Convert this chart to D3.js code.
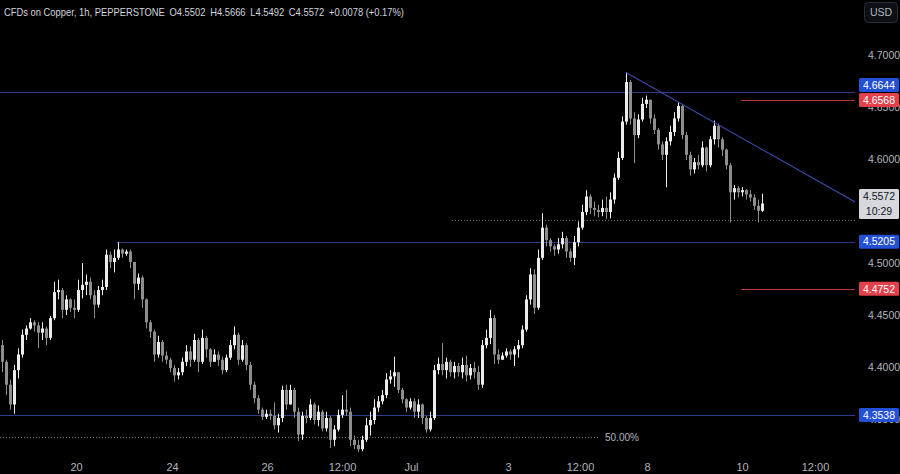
<!DOCTYPE html>
<html><head><meta charset="utf-8">
<script src="https://cdn.jsdelivr.net/npm/d3@7/dist/d3.min.js"></script>
<style>html,body{margin:0;padding:0;background:#000;overflow:hidden}</style>
</head><body><svg id="c" width="900" height="474"></svg>
<script>
// ---------- DATA ----------
const firstOpen = 4.421;
const closes = [4.405,4.383,4.364,4.397,4.412,4.431,4.437,4.443,4.440,4.433,4.437,4.428,4.447,4.472,4.474,4.455,4.465,4.457,4.455,4.474,
4.479,4.482,4.469,4.460,4.474,4.477,4.508,4.501,4.505,4.513,4.509,4.511,4.501,4.480,4.486,4.465,4.443,4.434,4.412,4.424,
4.411,4.407,4.399,4.392,4.395,4.405,4.415,4.407,4.426,4.405,4.428,4.417,4.405,4.412,4.407,4.397,4.409,4.421,4.431,4.407,
4.421,4.402,4.383,4.370,4.359,4.352,4.355,4.353,4.344,4.351,4.378,4.364,4.378,4.357,4.335,4.353,4.351,4.364,4.349,4.357,
4.341,4.351,4.330,4.340,4.354,4.359,4.357,4.330,4.325,4.321,4.330,4.344,4.349,4.361,4.367,4.373,4.388,4.391,4.395,4.378,
4.369,4.361,4.367,4.357,4.364,4.351,4.340,4.351,4.397,4.403,4.397,4.405,4.395,4.401,4.395,4.402,4.392,4.399,4.395,4.383,
4.421,4.428,4.447,4.412,4.407,4.411,4.415,4.412,4.417,4.421,4.436,4.465,4.489,4.457,4.505,4.534,4.522,4.516,4.513,4.518,
4.524,4.511,4.505,4.520,4.534,4.549,4.564,4.553,4.551,4.549,4.553,4.549,4.561,4.582,4.601,4.636,4.674,4.639,4.623,4.638,
4.653,4.657,4.639,4.628,4.614,4.604,4.617,4.626,4.639,4.651,4.623,4.604,4.590,4.597,4.594,4.611,4.594,4.619,4.632,4.619,
4.609,4.594,4.568,4.572,4.568,4.570,4.566,4.563,4.555,4.5502,4.5572];
const highs = [4.426,4.407,4.388,4.402,4.418,4.436,4.440,4.447,4.445,4.443,4.443,4.439,4.449,4.482,4.484,4.476,4.469,4.466,4.465,4.484,
4.500,4.489,4.486,4.474,4.478,4.484,4.513,4.511,4.513,4.520,4.514,4.513,4.513,4.501,4.490,4.488,4.466,4.445,4.436,4.430,
4.426,4.415,4.409,4.402,4.399,4.409,4.421,4.420,4.432,4.428,4.436,4.430,4.418,4.417,4.415,4.410,4.412,4.426,4.439,4.433,
4.426,4.423,4.405,4.386,4.373,4.361,4.359,4.359,4.366,4.355,4.382,4.383,4.383,4.380,4.361,4.357,4.359,4.369,4.366,4.363,
4.359,4.357,4.353,4.344,4.359,4.373,4.378,4.361,4.334,4.330,4.334,4.351,4.357,4.369,4.372,4.378,4.394,4.397,4.410,4.395,
4.380,4.370,4.370,4.370,4.369,4.365,4.353,4.357,4.402,4.409,4.423,4.409,4.407,4.405,4.404,4.409,4.411,4.403,4.405,4.401,
4.426,4.436,4.455,4.450,4.417,4.414,4.418,4.417,4.420,4.426,4.440,4.469,4.495,4.494,4.513,4.548,4.537,4.524,4.518,4.524,
4.530,4.526,4.514,4.526,4.540,4.556,4.570,4.566,4.559,4.556,4.561,4.564,4.568,4.586,4.607,4.641,4.683,4.676,4.645,4.643,
4.659,4.661,4.657,4.643,4.630,4.617,4.621,4.632,4.645,4.655,4.653,4.626,4.607,4.601,4.604,4.617,4.612,4.622,4.637,4.634,
4.621,4.610,4.596,4.575,4.574,4.573,4.571,4.570,4.566,4.561,4.5666];
const lows = [4.395,4.373,4.359,4.355,4.389,4.409,4.426,4.436,4.434,4.418,4.426,4.421,4.426,4.445,4.465,4.447,4.450,4.453,4.447,4.453,
4.466,4.469,4.465,4.447,4.457,4.469,4.474,4.495,4.491,4.503,4.505,4.507,4.495,4.465,4.474,4.457,4.437,4.428,4.405,4.409,
4.405,4.403,4.395,4.386,4.388,4.392,4.401,4.400,4.405,4.395,4.403,4.409,4.400,4.405,4.401,4.393,4.395,4.407,4.417,4.402,
4.405,4.397,4.378,4.365,4.355,4.349,4.350,4.349,4.340,4.337,4.347,4.359,4.367,4.351,4.329,4.330,4.346,4.349,4.345,4.343,
4.338,4.338,4.322,4.324,4.338,4.351,4.353,4.324,4.321,4.318,4.319,4.328,4.334,4.345,4.357,4.364,4.370,4.384,4.381,4.375,
4.365,4.357,4.359,4.351,4.351,4.345,4.337,4.338,4.349,4.393,4.392,4.389,4.391,4.389,4.391,4.389,4.386,4.388,4.389,4.378,
4.380,4.418,4.422,4.403,4.403,4.407,4.409,4.407,4.401,4.409,4.418,4.434,4.460,4.451,4.455,4.503,4.516,4.511,4.507,4.509,
4.514,4.505,4.501,4.498,4.516,4.532,4.546,4.547,4.545,4.544,4.545,4.542,4.543,4.557,4.580,4.599,4.633,4.633,4.596,4.620,
4.636,4.649,4.634,4.624,4.609,4.599,4.573,4.613,4.622,4.636,4.619,4.599,4.584,4.586,4.590,4.592,4.588,4.592,4.614,4.611,
4.603,4.590,4.539,4.561,4.563,4.564,4.561,4.559,4.551,4.539,4.5492];

const timeTickLabels = ["20","24","26","12:00","Jul","3","12:00","8","10","12:00"];
const timeTickIndex  = [18.5, 42.5, 66.25, 85, 102.25, 126.5, 144.5, 161.25, 185, 203.25];
const priceTicks = [4.70, 4.65, 4.60, 4.50, 4.45, 4.40, 4.35];

const levelPrices = [4.6644, 4.5205, 4.3538, 4.6568, 4.4752];
const levelStartIndex = [-1, 28.75, -1, 184.75, 184.75];
const levelKinds = ["blue","blue","blue","red","red"];

const trendIndex = [155.9, 213.25];
const trendPrice = [4.6834, 4.5587];

const dottedLevelPrice = 4.541;
const dottedLevelStart = 112.5;
const fibPrice = 4.3327;
const fibEndIndex = 149;
const fibLabel = "50.00%";

const lastPrice = 4.5572;
const countdown = "10:29";
const headerText = "CFDs on Copper, 1h, PEPPERSTONE\u2002O4.5502\u2002H4.5666\u2002L4.5492\u2002C4.5572\u2002+0.0078 (+0.17%)";
const currency = "USD";

// ---------- LAYOUT ----------
const FONT = "Liberation Sans, Arial, sans-serif";
const plotRight = 855, plotBottom = 455;
const svg = d3.select("#c");
svg.append("rect").attr("width",900).attr("height",474).attr("fill","#000");

const x = d3.scaleLinear().domain([0,190]).range([2,762]);
const y = d3.scaleLinear().domain([4.3154,4.7529]).range([plotBottom,0]);

const candles = closes.map((c,i)=>{
  const o = i===0 ? firstOpen : closes[i-1];
  return {i, o, c, h: Math.max(highs[i],o,c), l: Math.min(lows[i],o,c)};
});

const plot = svg.append("g");
plot.append("clipPath").attr("id","clip").append("rect").attr("width",plotRight).attr("height",plotBottom);
const pg = plot.append("g").attr("clip-path","url(#clip)");

// fib dotted line
pg.append("line").attr("x1",0).attr("x2",x(fibEndIndex)).attr("y1",Math.round(y(fibPrice))+0.5).attr("y2",Math.round(y(fibPrice))+0.5)
  .attr("stroke","#777a84").attr("stroke-dasharray","1,2").attr("stroke-width",1);
svg.append("text").attr("x",x(fibEndIndex)+7).attr("y",y(fibPrice)).attr("dy","0.35em")
  .attr("fill","#b2b5be").attr("font-family",FONT).attr("font-size",10).text(fibLabel);

// dotted level
pg.append("line").attr("x1",x(dottedLevelStart)).attr("x2",plotRight).attr("y1",Math.round(y(dottedLevelPrice))+0.5).attr("y2",Math.round(y(dottedLevelPrice))+0.5)
  .attr("stroke","#5c6a62").attr("stroke-dasharray","1,2").attr("stroke-width",1);

// horizontal levels
levelPrices.forEach((p,k)=>{
  const yy = Math.round(y(p))+0.5;
  pg.append("line").attr("x1",levelStartIndex[k]<0?0:x(levelStartIndex[k])).attr("x2",plotRight)
    .attr("y1",yy).attr("y2",yy)
    .attr("stroke",levelKinds[k]==="blue"?"#2e3c8c":"#b8393d").attr("stroke-width",1);
});

// candles
const up = "#ececec", down = "#8e8e8e";
pg.selectAll("line.wick").data(candles).join("line").attr("class","wick")
  .attr("x1",d=>x(d.i)+0.5).attr("x2",d=>x(d.i)+0.5)
  .attr("y1",d=>y(d.h)).attr("y2",d=>y(d.l))
  .attr("stroke",d=>d.c>=d.o?up:down).attr("stroke-width",1);
pg.selectAll("rect.body").data(candles).join("rect").attr("class","body")
  .attr("x",d=>x(d.i)-1).attr("width",3)
  .attr("y",d=>y(Math.max(d.o,d.c)))
  .attr("height",d=>Math.max(1,Math.abs(y(d.o)-y(d.c))))
  .attr("fill",d=>d.c>=d.o?up:down);

// trend line
pg.append("line").attr("x1",x(trendIndex[0])).attr("y1",y(trendPrice[0]))
  .attr("x2",x(trendIndex[1])).attr("y2",y(trendPrice[1]))
  .attr("stroke","#3a4aa6").attr("stroke-width",1.1);

// time axis
const tAxis = d3.axisBottom(x).tickValues(timeTickIndex).tickFormat((d,k)=>timeTickLabels[k]).tickSize(0).tickPadding(0);
const tg = svg.append("g").attr("transform",`translate(0,${plotBottom})`).call(tAxis);
tg.select(".domain").remove();
tg.selectAll("text").attr("fill","#b2b5be").attr("font-size",11).attr("font-family",FONT)
  .attr("y",8).attr("dy","0.71em");

// price axis
const pAxis = d3.axisRight(y).tickValues(priceTicks).tickFormat(d3.format(".4f")).tickSize(0).tickPadding(0);
const pgx = svg.append("g").attr("transform","translate(868,0)").call(pAxis);
pgx.select(".domain").remove();
pgx.selectAll("text").attr("fill","#b2b5be").attr("font-size",10.5).attr("font-family",FONT);

// level labels with collision handling
const labs = levelPrices.map((p,k)=>({p, kind:levelKinds[k], yy:y(p)})).sort((a,b)=>a.yy-b.yy);
for(let k=labs.length-2;k>=0;k--){ if(labs[k].yy > labs[k+1].yy-15) labs[k].yy = labs[k+1].yy-15; }
labs.forEach(L=>{
  svg.append("rect").attr("x",859).attr("y",L.yy-7).attr("width",40).attr("height",14).attr("rx",1.5)
    .attr("fill",L.kind==="blue"?"#2450d6":"#e3404c");
  svg.append("text").attr("x",879).attr("y",L.yy).attr("dy","0.36em").attr("text-anchor","middle")
    .attr("fill","#ffffff").attr("font-size",10.5).attr("font-family",FONT)
    .text(L.p.toFixed(4));
});

// last price label
const ly = y(lastPrice);
svg.append("rect").attr("x",859).attr("y",ly-14.5).attr("width",40).attr("height",30).attr("rx",1.5).attr("fill","#d6d8de");
svg.append("text").attr("x",879).attr("y",ly-7).attr("dy","0.36em").attr("text-anchor","middle")
  .attr("fill","#131722").attr("font-size",10.5).attr("font-family",FONT).text(lastPrice.toFixed(4));
svg.append("text").attr("x",879).attr("y",ly+7.5).attr("dy","0.36em").attr("text-anchor","middle")
  .attr("fill","#131722").attr("font-size",10.5).attr("font-family",FONT).text(countdown);

// currency button
svg.append("rect").attr("x",864.5).attr("y",2.5).attr("width",33).attr("height",20).attr("rx",4)
  .attr("fill","#0d0f14").attr("stroke","#2a2e39");
svg.append("text").attr("x",881).attr("y",12.5).attr("dy","0.36em").attr("text-anchor","middle")
  .attr("fill","#b2b5be").attr("font-size",10.5).attr("font-family",FONT).text(currency);

// header
svg.append("text").attr("x",4).attr("y",16).attr("fill","#d1d4dc")
  .attr("font-size",11).attr("font-family",FONT)
  .attr("textLength",400).attr("lengthAdjust","spacingAndGlyphs").text(headerText);
</script></body></html>
